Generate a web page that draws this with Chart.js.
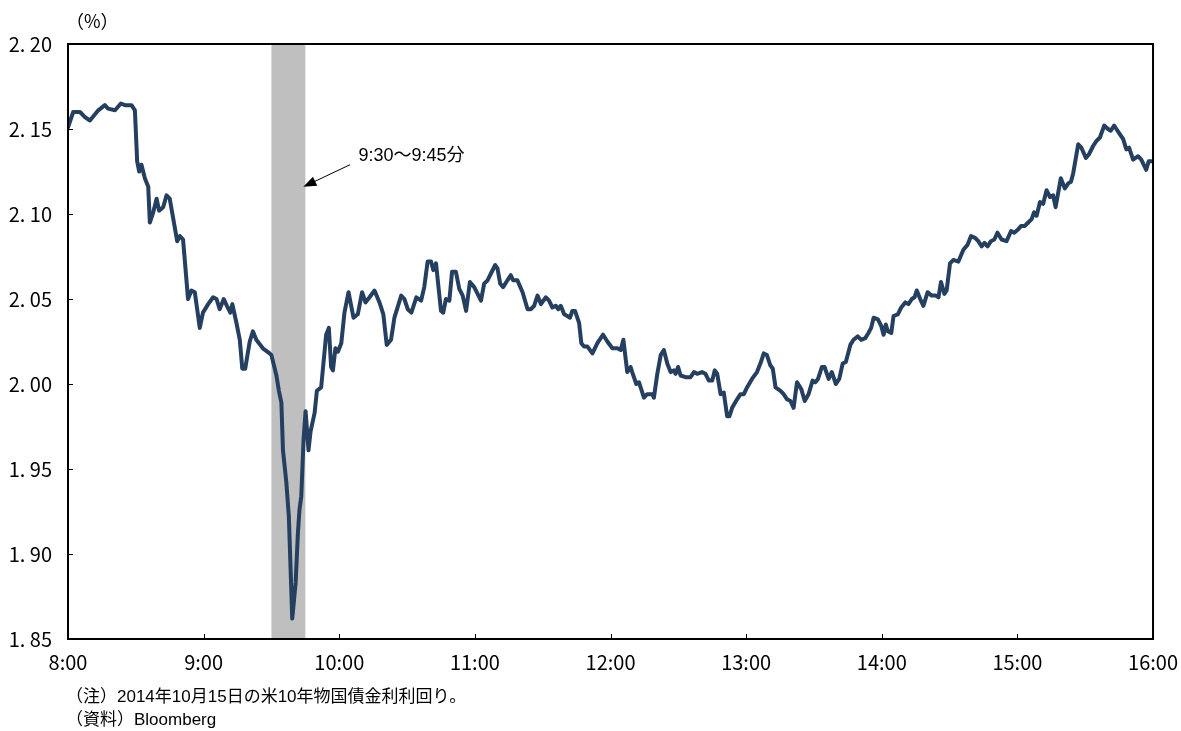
<!DOCTYPE html>
<html>
<head>
<meta charset="utf-8">
<script src="https://cdn.jsdelivr.net/npm/chart.js@4"></script>
<style>
  html, body { margin: 0; padding: 0; background: #fff; }
  #wrap { width: 1181px; height: 731px; }
</style>
</head>
<body>
<div id="wrap"><canvas id="chart"></canvas></div>
<script>
// minutes after 8:00
const minutes = [
  0, 2.3, 5.3, 7.5, 9.7, 13.4, 16.3, 17.7, 20.8, 23.4, 25.2, 28.1, 29.6, 30.6, 31.5, 32.5, 34.0, 35.5, 36.2, 37.7,
  39.2, 40.3, 42.1, 43.6, 45.0, 48.3, 49.5, 50.9, 53.1, 54.6, 56.1, 58.3, 59.7, 62.0, 64.2, 65.7, 67.1, 68.9, 70.3, 71.8,
  72.7, 74.5, 76.0, 77.1, 78.4, 80.4, 81.8, 83.3, 86.2, 89.2, 90.0, 92.2, 93.3, 94.4, 95.1, 96.6, 97.7, 99.2, 100.7, 101.7,
  102.4, 103.2, 104.2, 105.1, 106.4, 107.3, 109.1, 110.1, 112.0, 114.2, 115.4, 116.4, 117.2, 118.3, 119.4, 120.9, 122.3, 124.1, 126.3, 128.2,
  130.1, 131.6, 133.4, 135.6, 137.8, 139.5, 141.0, 142.9, 144.4, 147.4, 148.8, 150.3, 151.9, 154.1, 156.2, 157.6, 159.1, 160.6, 161.6, 162.8,
  165.0, 166.0, 167.2, 168.7, 169.9, 171.6, 173.1, 174.6, 176.1, 177.8, 179.7, 182.7, 184.1, 185.6, 187.1, 189.0, 190.0, 191.2, 192.5, 194.4,
  195.9, 196.9, 198.8, 201.1, 203.3, 204.8, 206.2, 207.7, 209.2, 211.4, 212.8, 214.3, 215.8, 216.9, 218.0, 219.5, 220.9, 222.1, 223.1, 224.3,
  226.1, 227.1, 228.3, 229.8, 232.0, 234.2, 236.7, 238.6, 240.8, 243.0, 244.5, 245.7, 247.4, 248.9, 249.6, 251.4, 252.6, 254.8, 256.2, 258.5,
  259.2, 260.7, 262.2, 263.6, 265.1, 266.6, 268.0, 268.8, 269.9, 271.0, 273.2, 275.4, 276.9, 278.3, 280.5, 282.0, 283.5, 285.0, 286.1, 287.2,
  288.7, 290.1, 291.6, 292.6, 293.8, 296.0, 297.5, 299.0, 300.4, 302.6, 304.8, 306.3, 307.8, 309.2, 310.7, 311.8, 313.0, 315.2, 316.6, 318.1,
  319.6, 321.0, 322.5, 324.4, 325.9, 327.6, 329.4, 330.6, 331.8, 333.5, 334.7, 336.5, 337.9, 339.7, 341.2, 342.7, 344.1, 346.1, 347.5, 349.4,
  350.9, 352.7, 354.1, 355.3, 356.4, 358.3, 359.8, 360.8, 361.8, 362.7, 364.2, 365.2, 367.1, 368.6, 370.4, 371.8, 373.3, 374.5, 375.5, 377.0,
  378.4, 380.3, 382.1, 383.9, 385.1, 386.2, 387.7, 388.7, 390.2, 391.7, 393.9, 396.1, 398.0, 399.5, 401.3, 402.7, 404.2, 405.4, 406.8, 408.3,
  409.8, 411.2, 413.0, 415.2, 417.2, 418.6, 420.4, 421.6, 423.3, 424.8, 426.3, 427.4, 428.5, 430.0, 431.4, 432.9, 434.4, 435.8, 436.9, 439.2,
  441.0, 442.5, 443.7, 444.7, 446.9, 448.3, 450.3, 451.6, 453.5, 455.0, 456.5, 458.4, 460.1, 461.3, 462.8, 463.8, 465.3, 466.8, 468.2, 469.4,
  471.2, 473.4, 474.8, 477.0, 478.1, 479.3
];
const yields = [
  2.151, 2.160, 2.160, 2.157, 2.155, 2.161, 2.164, 2.162, 2.161, 2.165, 2.164, 2.164, 2.161, 2.131, 2.125, 2.129, 2.121, 2.116, 2.095, 2.101,
  2.109, 2.102, 2.104, 2.111, 2.109, 2.084, 2.087, 2.085, 2.050, 2.055, 2.054, 2.033, 2.042, 2.047, 2.051, 2.050, 2.044, 2.050, 2.046, 2.042,
  2.047, 2.036, 2.026, 2.009, 2.009, 2.025, 2.031, 2.026, 2.021, 2.018, 2.017, 2.005, 1.996, 1.989, 1.961, 1.942, 1.922, 1.862, 1.883, 1.912,
  1.926, 1.934, 1.967, 1.984, 1.961, 1.972, 1.983, 1.996, 1.998, 2.029, 2.033, 2.010, 2.008, 2.021, 2.019, 2.024, 2.042, 2.054, 2.039, 2.041,
  2.054, 2.048, 2.051, 2.055, 2.048, 2.041, 2.023, 2.026, 2.039, 2.052, 2.050, 2.044, 2.042, 2.051, 2.049, 2.057, 2.072, 2.072, 2.067, 2.071,
  2.043, 2.042, 2.050, 2.049, 2.066, 2.066, 2.056, 2.052, 2.043, 2.060, 2.057, 2.049, 2.059, 2.061, 2.065, 2.070, 2.068, 2.059, 2.057, 2.061,
  2.064, 2.061, 2.061, 2.054, 2.044, 2.044, 2.046, 2.052, 2.047, 2.051, 2.049, 2.045, 2.046, 2.044, 2.046, 2.041, 2.040, 2.039, 2.043, 2.043,
  2.036, 2.024, 2.022, 2.022, 2.018, 2.024, 2.029, 2.025, 2.021, 2.021, 2.020, 2.026, 2.007, 2.010, 2.007, 2.000, 2.001, 1.992, 1.994, 1.994,
  1.992, 2.006, 2.017, 2.020, 2.012, 2.007, 2.008, 2.006, 2.010, 2.005, 2.004, 2.004, 2.007, 2.006, 2.007, 2.006, 2.002, 2.002, 2.008, 2.006,
  1.994, 1.995, 1.981, 1.981, 1.986, 1.991, 1.994, 1.994, 1.998, 2.003, 2.007, 2.012, 2.018, 2.017, 2.011, 2.009, 1.998, 1.996, 1.994, 1.991,
  1.990, 1.986, 2.001, 1.997, 1.990, 1.994, 2.002, 2.001, 2.003, 2.010, 2.010, 2.003, 2.007, 2.000, 2.003, 2.012, 2.013, 2.023, 2.026, 2.028,
  2.026, 2.027, 2.030, 2.033, 2.039, 2.038, 2.034, 2.029, 2.035, 2.031, 2.030, 2.040, 2.041, 2.045, 2.048, 2.047, 2.050, 2.051, 2.055, 2.050,
  2.046, 2.054, 2.052, 2.052, 2.051, 2.060, 2.053, 2.055, 2.071, 2.073, 2.072, 2.079, 2.082, 2.087, 2.086, 2.084, 2.081, 2.083, 2.081, 2.084,
  2.085, 2.089, 2.085, 2.084, 2.090, 2.089, 2.091, 2.093, 2.093, 2.095, 2.097, 2.101, 2.099, 2.107, 2.106, 2.114, 2.110, 2.111, 2.104, 2.121,
  2.115, 2.118, 2.119, 2.124, 2.141, 2.139, 2.133, 2.135, 2.140, 2.143, 2.145, 2.152, 2.150, 2.149, 2.152, 2.150, 2.147, 2.144, 2.138, 2.139,
  2.132, 2.134, 2.132, 2.126, 2.131, 2.131
];
const hourLabels = ['8:00', '9:00', '10:00', '11:00', '12:00', '13:00', '14:00', '15:00', '16:00'];
const yTickLabels = ['1. 85', '1. 90', '1. 95', '2. 00', '2. 05', '2. 10', '2. 15', '2. 20'];
const bandStart = 90, bandEnd = 105;   // 9:30 - 9:45
const noteText = '9:30～9:45分';
const footnotes = ['（注）2014年10月15日の米10年物国債金利利回り。', '（資料）Bloomberg'];

const tickFont = '"Liberation Sans Narrow", "Noto Sans CJK JP", sans-serif';
const textFont = '"Liberation Sans", "Noto Sans CJK JP", sans-serif';

const points = minutes.map((m, i) => ({ x: m, y: yields[i] }));

const frame = {
  id: 'frame',
  beforeDatasetsDraw(chart) {
    const { ctx, chartArea: a, scales: { x } } = chart;
    ctx.save();
    ctx.fillStyle = '#bfbfbf';
    const x0 = x.getPixelForValue(bandStart), x1 = x.getPixelForValue(bandEnd);
    ctx.fillRect(x0, a.top, x1 - x0, a.bottom - a.top);
    ctx.restore();
  },
  afterDraw(chart) {
    const { ctx, chartArea: a, scales: { x, y } } = chart;
    ctx.save();
    ctx.strokeStyle = '#000';
    ctx.lineWidth = 2;
    ctx.strokeRect(a.left, a.top, a.right - a.left, a.bottom - a.top);
    ctx.lineWidth = 1;
    ctx.beginPath();
    y.ticks.forEach(t => {
      const py = Math.round(y.getPixelForValue(t.value)) + 0.5;
      ctx.moveTo(a.left, py); ctx.lineTo(a.left + 5, py);
    });
    x.ticks.forEach(t => {
      const px = Math.round(x.getPixelForValue(t.value)) + 0.5;
      ctx.moveTo(px, a.bottom); ctx.lineTo(px, a.bottom - 5);
    });
    ctx.stroke();

    // annotation arrow
    const tipX = x.getPixelForValue(bandEnd) - 2, tipY = y.getPixelForValue(2.116);
    const tailX = x.getPixelForValue(124.8), tailY = y.getPixelForValue(2.129);
    const ang = Math.atan2(tipY - tailY, tipX - tailX);
    ctx.beginPath();
    ctx.moveTo(tailX, tailY);
    ctx.lineTo(tipX - 10 * Math.cos(ang), tipY - 10 * Math.sin(ang));
    ctx.stroke();
    ctx.fillStyle = '#000';
    ctx.beginPath();
    ctx.moveTo(tipX, tipY);
    ctx.lineTo(tipX - 13 * Math.cos(ang) + 5 * Math.sin(ang), tipY - 13 * Math.sin(ang) - 5 * Math.cos(ang));
    ctx.lineTo(tipX - 13 * Math.cos(ang) - 5 * Math.sin(ang), tipY - 13 * Math.sin(ang) + 5 * Math.cos(ang));
    ctx.closePath();
    ctx.fill();

    ctx.font = '18px ' + textFont;
    ctx.textBaseline = 'middle';
    ctx.textAlign = 'left';
    ctx.fillText(noteText, x.getPixelForValue(128.5), y.getPixelForValue(2.134));

    // unit label and notes
    ctx.font = '18px "Noto Sans CJK JP", sans-serif';
    ctx.fillText('（%）', a.left - 2, 21);
    ctx.font = '17px ' + textFont;
    ctx.fillText(footnotes[0], a.left - 2, 697);
    ctx.fillText(footnotes[1], a.left - 2, 720);
    ctx.restore();
  }
};

new Chart(document.getElementById('chart'), {
  type: 'line',
  data: {
    datasets: [{
      data: points,
      borderColor: '#243f60',
      borderWidth: 4,
      borderJoinStyle: 'round',
      borderCapStyle: 'round',
      pointRadius: 0,
      tension: 0,
      fill: false
    }]
  },
  options: {
    responsive: true,
    maintainAspectRatio: false,
    animation: false,
    events: [],
    layout: { padding: { left: 0, right: 19, top: 44, bottom: 56 } },
    plugins: { legend: { display: false }, tooltip: { enabled: false } },
    scales: {
      x: {
        type: 'linear',
        min: 0,
        max: 480,
        grid: { display: false },
        border: { display: false },
        afterFit(scale) { scale.height = 36; },
        ticks: {
          stepSize: 60,
          padding: 3,
          color: '#000',
          maxRotation: 0,
          font: { family: tickFont, size: 20 },
          callback: v => hourLabels[v / 60]
        }
      },
      y: {
        min: 1.85,
        max: 2.20,
        grid: { display: false },
        border: { display: false },
        afterFit(scale) { scale.width = 68; },
        ticks: {
          stepSize: 0.05,
          padding: 8,
          color: '#000',
          font: { family: tickFont, size: 20 },
          callback: (v, i) => yTickLabels[i]
        }
      }
    }
  },
  plugins: [frame]
});
</script>
</body>
</html>
